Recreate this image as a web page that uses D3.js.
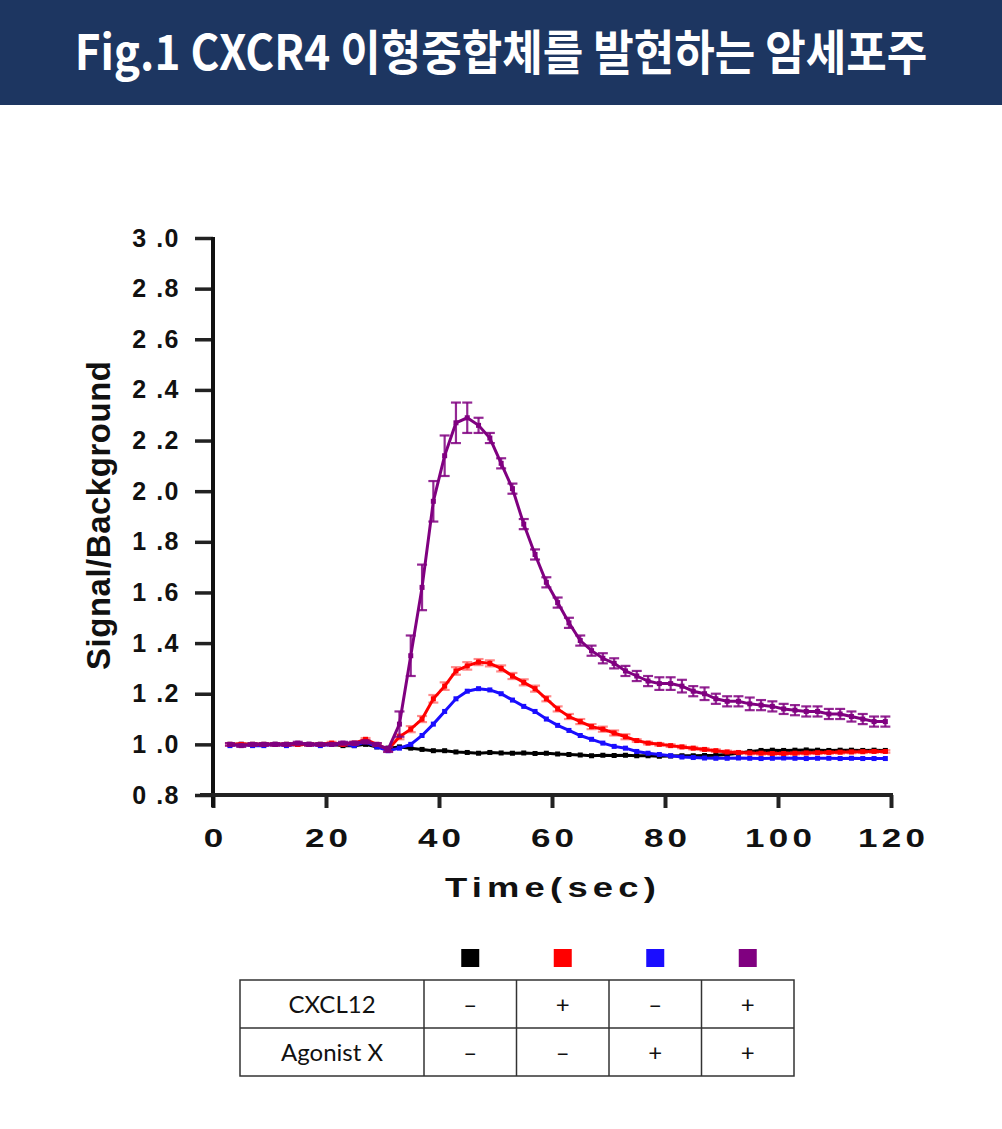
<!DOCTYPE html>
<html>
<head>
<meta charset="utf-8">
<script src="https://cdn.jsdelivr.net/npm/d3@7"></script>
<style>
  body { margin: 0; background: #fff; }
  svg { display: block; }
</style>
</head>
<body>
<svg id="chart" width="1002" height="1129"></svg>
<script>
/* global d3 */

// sample times (sec)
const times = [3, 5, 7, 9, 11, 13, 15, 17, 19, 21, 23, 25, 27, 29, 31, 33, 35, 37, 39, 41,
  43, 45, 47, 49, 51, 53, 55, 57, 59, 61, 63, 65, 67, 69, 71, 73, 75, 77, 79, 81,
  83, 85, 87, 89, 91, 93, 95, 97, 99, 101, 103, 105, 107, 109, 111, 113, 115, 117, 119];

// signal / background per condition
const ctrl = [1.00, 1.00, 1.00, 1.00, 1.00, 1.00, 1.00, 1.00, 1.00, 1.00, 0.995, 0.995, 1.00, 0.99,
  0.985, 0.99, 0.985, 0.98, 0.975, 0.975, 0.97, 0.968, 0.965, 0.968, 0.966, 0.965, 0.966, 0.964, 0.965, 0.962,
  0.96, 0.958, 0.955, 0.957, 0.956, 0.957, 0.955, 0.955, 0.953, 0.954, 0.955, 0.955, 0.956, 0.957, 0.96,
  0.965, 0.972, 0.976, 0.977, 0.976, 0.977, 0.978, 0.977, 0.976, 0.977, 0.977, 0.976, 0.977, 0.976];

const cxcl12 = [1.00, 1.00, 1.00, 1.00, 1.00, 1.00, 1.00, 1.00, 1.00, 1.005, 1.00, 1.005, 1.02, 1.00,
  0.98, 1.03, 1.06, 1.10, 1.18, 1.23, 1.29, 1.31, 1.325, 1.32, 1.30, 1.27, 1.245, 1.22, 1.18, 1.14,
  1.11, 1.09, 1.07, 1.06, 1.045, 1.03, 1.015, 1.005, 1.00, 0.995, 0.99, 0.985, 0.98, 0.975, 0.97,
  0.968, 0.966, 0.965, 0.964, 0.964, 0.965, 0.966, 0.967, 0.968, 0.969, 0.97, 0.971, 0.972, 0.972];

const agonist = [0.995, 1.00, 0.995, 0.995, 1.00, 0.995, 1.00, 1.00, 0.995, 1.00, 1.00, 0.995, 1.01, 0.99,
  0.975, 0.985, 1.00, 1.035, 1.08, 1.13, 1.18, 1.21, 1.22, 1.215, 1.20, 1.175, 1.15, 1.13, 1.10, 1.075,
  1.055, 1.035, 1.02, 1.005, 0.992, 0.985, 0.972, 0.965, 0.96, 0.955, 0.95, 0.948, 0.946, 0.945, 0.945,
  0.946, 0.945, 0.944, 0.945, 0.946, 0.945, 0.944, 0.945, 0.945, 0.944, 0.945, 0.944, 0.944, 0.944];

const both = [1.00, 0.995, 1.00, 1.00, 1.00, 1.00, 1.005, 1.00, 1.00, 1.00, 1.005, 1.005, 1.01, 1.00,
  0.98, 1.08, 1.35, 1.62, 1.96, 2.14, 2.27, 2.29, 2.26, 2.21, 2.11, 2.01, 1.87, 1.75, 1.64, 1.56,
  1.48, 1.41, 1.37, 1.34, 1.32, 1.29, 1.27, 1.25, 1.24, 1.24, 1.23, 1.21, 1.20, 1.18, 1.17,
  1.17, 1.16, 1.155, 1.15, 1.14, 1.135, 1.13, 1.13, 1.12, 1.12, 1.11, 1.10, 1.09, 1.09];

// error bars
const bothErr = [0.005, 0.005, 0.005, 0.005, 0.005, 0.005, 0.005, 0.005, 0.005, 0.005, 0.005, 0.005, 0.005, 0.005,
  0.01, 0.05, 0.08, 0.09, 0.08, 0.08, 0.08, 0.06, 0.03, 0.02, 0.02, 0.02, 0.02, 0.02, 0.02, 0.02,
  0.02, 0.02, 0.02, 0.02, 0.02, 0.02, 0.02, 0.02, 0.025, 0.025, 0.025, 0.02, 0.025, 0.02, 0.02,
  0.02, 0.025, 0.02, 0.02, 0.02, 0.02, 0.02, 0.02, 0.02, 0.02, 0.02, 0.02, 0.02, 0.02];

const cxcl12Err = [0.005, 0.005, 0.005, 0.005, 0.005, 0.005, 0.005, 0.005, 0.005, 0.005, 0.005, 0.005, 0.005, 0.005,
  0.008, 0.01, 0.012, 0.012, 0.015, 0.015, 0.015, 0.015, 0.012, 0.012, 0.012, 0.012, 0.012, 0.012,
  0.01, 0.01, 0.01, 0.01, 0.01, 0.01, 0.01, 0.01,
  0.005, 0.005, 0.005, 0.005, 0.005, 0.005, 0.005, 0.005, 0.005, 0.005, 0.005, 0.005, 0.005, 0.005,
  0.005, 0.005, 0.005, 0.005, 0.005, 0.005, 0.005, 0.005, 0.005];

const xTicks = [0, 20, 40, 60, 80, 100, 120];
const yTicks = [0.8, 1.0, 1.2, 1.4, 1.6, 1.8, 2.0, 2.2, 2.4, 2.6, 2.8, 3.0];

const legendColors = ['#000000', '#ff0000', '#1a0dff', '#800080'];
const rowLabels = ['CXCL12', 'Agonist X'];
const cxcl12Row = ['–', '+', '–', '+'];
const agonistRow = ['–', '–', '+', '+'];

const svg = d3.select('#chart');

// title band
svg.append('rect')
  .attr('x', 0).attr('y', 0)
  .attr('width', 1002).attr('height', 105)
  .attr('fill', '#1d3661');

// title squeezed to the reference width with a scale, not textLength
const title = svg.append('text')
  .attr('text-anchor', 'middle')
  .attr('fill', '#fff')
  .attr('font-family', '"Noto Sans CJK KR", "Noto Sans", sans-serif')
  .attr('font-weight', 700)
  .attr('font-size', 48)
  .text('Fig.1 CXCR4 이형중합체를 발현하는 암세포주');
const tw = title.node().getComputedTextLength();
title.attr('transform', `translate(501,70) scale(${Math.min(1, 853 / tw)},1)`);

// scales
const x = d3.scaleLinear().domain([0, 120]).range([213, 891]);
const y = d3.scaleLinear().domain([0.8, 3.0]).range([795, 238]);

const axisFont = '"Liberation Sans", Arial, sans-serif';

// y axis
const yAxis = svg.append('g')
  .attr('transform', `translate(${x(0)},0)`)
  .call(d3.axisLeft(y).tickValues(yTicks).tickSize(18).tickSizeOuter(0).tickPadding(15)
    .tickFormat(d => d.toFixed(1).replace('.', ' .')));
yAxis.select('.domain').remove();
yAxis.selectAll('.tick line').attr('stroke', '#222').attr('stroke-width', 3.5);
yAxis.selectAll('.tick text')
  .attr('font-family', axisFont)
  .attr('font-weight', 700)
  .attr('font-size', 25)
  .attr('letter-spacing', 1.5)
  .attr('fill', '#111');

// x axis
const xAxis = svg.append('g')
  .attr('transform', `translate(0,${y(0.8)})`)
  .call(d3.axisBottom(x).tickValues(xTicks).tickSize(13).tickSizeOuter(0));
xAxis.select('.domain').remove();
xAxis.selectAll('.tick line').attr('stroke', '#222').attr('stroke-width', 4);
xAxis.selectAll('.tick text')
  .attr('font-family', axisFont)
  .attr('font-weight', 700)
  .attr('font-size', 25)
  .attr('letter-spacing', 3)
  .attr('fill', '#111')
  .attr('y', 52).attr('dy', 0).attr('dx', 1.5)
  .attr('transform', 'scale(1.4,1)');

// axis lines
svg.append('line')
  .attr('x1', x(0)).attr('x2', x(0))
  .attr('y1', y(3.0) - 1).attr('y2', y(0.8) + 12)
  .attr('stroke', '#111').attr('stroke-width', 4);
svg.append('line')
  .attr('x1', x(0) - 13).attr('x2', x(120) + 2)
  .attr('y1', y(0.8)).attr('y2', y(0.8))
  .attr('stroke', '#222').attr('stroke-width', 4);

// axis titles
svg.append('text')
  .attr('transform', `translate(110,${(y(3.0) + y(0.8)) / 2 - 1}) rotate(-90)`)
  .attr('text-anchor', 'middle')
  .attr('font-family', axisFont)
  .attr('font-weight', 700)
  .attr('font-size', 33)
  .attr('textLength', 309)
  .attr('lengthAdjust', 'spacing')
  .attr('fill', '#111')
  .text('Signal/Background');

svg.append('text')
  .attr('transform', 'translate(553,897) scale(1.3,1)')
  .attr('text-anchor', 'middle')
  .attr('font-family', axisFont)
  .attr('font-weight', 700)
  .attr('font-size', 28)
  .attr('letter-spacing', 4)
  .attr('fill', '#111')
  .text('Time(sec)');

// series
const series = [
  {values: ctrl, err: null, color: legendColors[0]},
  {values: agonist, err: null, color: legendColors[2]},
  {values: cxcl12, err: cxcl12Err, color: legendColors[1]},
  {values: both, err: bothErr, color: legendColors[3]}
];

const line = d3.line()
  .x(d => x(d.t))
  .y(d => y(d.v));

series.forEach(s => {
  const pts = times.map((t, i) => ({t: t, v: s.values[i], e: s.err ? s.err[i] : 0}));
  const g = svg.append('g');

  if (s.err) {
    const eb = g.selectAll('g.eb').data(pts).enter().append('g')
      .attr('class', 'eb')
      .attr('stroke', s.color)
      .attr('stroke-opacity', s.color === '#800080' ? 0.85 : 0.45)
      .attr('stroke-width', 2.2);
    eb.append('line')
      .attr('x1', d => x(d.t)).attr('x2', d => x(d.t))
      .attr('y1', d => y(d.v - d.e)).attr('y2', d => y(d.v + d.e));
    eb.append('line')
      .attr('x1', d => x(d.t) - 5).attr('x2', d => x(d.t) + 5)
      .attr('y1', d => y(d.v + d.e)).attr('y2', d => y(d.v + d.e));
    eb.append('line')
      .attr('x1', d => x(d.t) - 5).attr('x2', d => x(d.t) + 5)
      .attr('y1', d => y(d.v - d.e)).attr('y2', d => y(d.v - d.e));
  }

  g.append('path')
    .datum(pts)
    .attr('d', line)
    .attr('fill', 'none')
    .attr('stroke', s.color)
    .attr('stroke-width', 3);

  g.selectAll('rect').data(pts).enter().append('rect')
    .attr('x', d => x(d.t) - 2.5)
    .attr('y', d => y(d.v) - 2.5)
    .attr('width', 5)
    .attr('height', 5)
    .attr('fill', s.color);
});

// legend table
const colX = d3.scaleBand().domain(d3.range(4)).range([424, 794]);
const rowY = d3.scaleBand().domain(d3.range(2)).range([980, 1076]);
const tableFont = 'Lato, "Noto Sans", sans-serif';

svg.selectAll('rect.key').data(legendColors).enter().append('rect')
  .attr('class', 'key')
  .attr('x', (d, i) => colX(i) + colX.bandwidth() / 2 - 9)
  .attr('y', 949)
  .attr('width', 18)
  .attr('height', 18)
  .attr('fill', d => d);

const table = svg.append('g')
  .attr('stroke', '#333')
  .attr('stroke-width', 1.5);
table.append('rect')
  .attr('x', 240).attr('y', 980)
  .attr('width', 554).attr('height', 96)
  .attr('fill', 'none');
d3.range(4).forEach(i => {
  table.append('line')
    .attr('x1', colX(i)).attr('x2', colX(i))
    .attr('y1', 980).attr('y2', 1076);
});
table.append('line')
  .attr('x1', 240).attr('x2', 794)
  .attr('y1', rowY(1)).attr('y2', rowY(1));

[cxcl12Row, agonistRow].forEach((row, r) => {
  const cy = rowY(r) + rowY.bandwidth() / 2 + 8.5;
  svg.append('text')
    .attr('x', 332).attr('y', cy)
    .attr('text-anchor', 'middle')
    .attr('font-family', tableFont)
    .attr('font-size', 24)
    .attr('fill', '#111')
    .text(rowLabels[r]);
  svg.selectAll(null).data(row).enter().append('text')
    .attr('x', (d, i) => colX(i) + colX.bandwidth() / 2)
    .attr('y', cy)
    .attr('text-anchor', 'middle')
    .attr('font-family', tableFont)
    .attr('font-size', 24)
    .attr('fill', '#111')
    .text(d => d);
});
</script>
</body>
</html>
